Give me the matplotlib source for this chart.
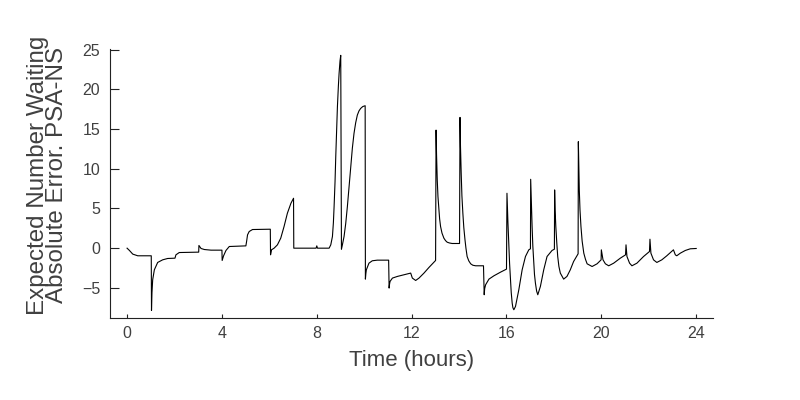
import matplotlib
matplotlib.use("Agg")
import matplotlib.pyplot as plt

# values (hours, absolute error)
time_h = [
    0.00, 0.10, 0.24, 0.45, 1.02, 1.03, 1.05, 1.08, 1.15, 1.29, 1.50, 1.71, 2.02, 2.06, 2.20,
    3.02, 3.03, 3.12, 3.26, 3.54, 4.00, 4.01, 4.07, 4.17, 4.31, 5.01, 5.04, 5.08, 5.15,
    5.29, 6.04, 6.05, 6.09, 6.20, 6.34, 6.48, 6.62, 6.76, 6.91, 7.02, 7.03, 7.97, 8.00,
    8.03, 8.52, 8.59, 8.66, 8.70, 8.73, 8.77, 8.80, 8.84, 8.87, 8.91, 8.94, 8.98, 9.01,
    9.04, 9.08, 9.15, 9.22, 9.29, 9.36, 9.43, 9.50, 9.57, 9.64, 9.71, 9.78, 9.85, 9.94, 10.04,
    10.05, 10.07, 10.09, 10.20, 10.34, 10.55, 11.03,
    11.05, 11.07, 11.09, 11.19, 11.40, 11.68, 11.96, 12.03, 12.17, 12.31, 12.52, 12.73, 13.01,
    13.03, 13.05, 13.08, 13.11, 13.15, 13.18, 13.22, 13.28, 13.36, 13.43, 13.50, 13.60, 13.71, 14.02,
    14.04, 14.06, 14.09, 14.12, 14.16, 14.20, 14.25, 14.29, 14.34, 14.41, 14.49, 14.58, 14.70, 15.03,
    15.06, 15.08, 15.12, 15.26, 15.47, 15.75, 16.00,
    16.02, 16.06, 16.10, 16.13, 16.17, 16.20, 16.24, 16.27, 16.31, 16.38, 16.52, 16.66, 16.80, 16.94, 17.01,
    17.02, 17.05, 17.08, 17.11, 17.15, 17.18, 17.22, 17.27, 17.32, 17.43, 17.57, 17.71, 17.92, 18.02,
    18.03, 18.05, 18.08, 18.12, 18.16, 18.21, 18.27, 18.41, 18.55, 18.69, 18.83, 19.02,
    19.03, 19.05, 19.07, 19.10, 19.14, 19.19, 19.26, 19.33, 19.40, 19.61, 19.82, 19.99,
    20.00, 20.07, 20.17, 20.31, 20.52, 20.80, 21.02, 21.04, 21.08, 21.19, 21.29, 21.50, 21.78, 22.03,
    22.05, 22.09, 22.20, 22.34, 22.55, 22.76, 23.04, 23.12, 23.18, 23.33, 23.54, 23.75, 24.00,
]
abs_error = [
    0.00, -0.29, -0.75, -0.96, -0.96, -7.84, -5.60, -3.98, -2.73, -1.80, -1.47, -1.30, -1.26, -0.84, -0.55,
    -0.50, 0.34, -0.04, -0.17, -0.25, -0.25, -1.55, -0.96, -0.29, 0.21, 0.29, 0.84, 1.68, 2.10,
    2.35, 2.39, -0.84, -0.21, 0.00, 0.42, 1.26, 2.73, 4.40, 5.66, 6.29, 0.00, 0.00, 0.29,
    0.00, 0.00, 0.42, 1.47, 3.20, 5.24, 8.40, 11.53, 15.00, 17.82, 20.40, 22.00, 23.60, 24.30,
    -0.13, 0.42, 1.47, 3.10, 5.24, 7.70, 10.27, 12.60, 14.47, 15.80, 16.77, 17.30, 17.61, 17.85, 17.95,
    -3.90, -3.20, -2.73, -1.89, -1.59, -1.51, -1.51,
    -5.03, -4.50, -4.19, -3.77, -3.56, -3.35, -3.14, -3.77, -4.07, -3.77, -3.14, -2.43, -1.55,
    14.88, 11.80, 8.60, 6.50, 4.82, 3.70, 2.73, 1.90, 1.26, 0.95, 0.75, 0.65, 0.59, 0.59,
    16.48, 12.80, 9.43, 6.60, 4.40, 2.60, 1.05, 0.00, -1.05, -1.60, -1.97, -2.15, -2.22, -2.22,
    -5.87, -5.10, -4.61, -3.90, -3.48, -3.02, -2.64,
    6.92, 3.30, 0.21, -1.90, -3.98, -5.60, -6.92, -7.50, -7.76, -7.34, -5.24, -2.73, -1.05, -0.21, -0.08,
    8.68, 5.50, 2.73, 0.30, -1.89, -3.30, -4.40, -5.40, -5.87, -4.82, -2.73, -1.05, -0.29, -0.13,
    7.34, 4.80, 2.73, 0.70, -1.05, -2.30, -3.14, -3.90, -3.56, -2.73, -1.68, -0.71,
    13.42, 10.00, 7.34, 4.80, 2.73, 0.90, -0.63, -1.40, -1.97, -2.31, -1.97, -1.47,
    -0.21, -1.47, -1.97, -2.22, -1.89, -1.26, -0.84, 0.42, -1.05, -1.89, -2.22, -1.89, -1.05, -0.42,
    1.13, -0.63, -1.47, -1.80, -1.47, -0.96, -0.21, -0.84, -0.96, -0.63, -0.29, -0.08, -0.04,
]

x_ticks = [0, 4, 8, 12, 16, 20, 24]
y_ticks = [-5, 0, 5, 10, 15, 20, 25]

plt.rcParams['font.family'] = ['Liberation Sans', 'DejaVu Sans']
text_color = '#404040'

fig = plt.figure(figsize=(8, 4), dpi=100)
ax = fig.add_axes([0.1375, 0.205, 0.7535, 0.6725])
ax.plot(time_h, abs_error, color='black', linewidth=0.8)

ax.set_xlim(-0.72, 24.7)
ax.set_ylim(-8.8, 25.1)
ax.set_xticks(x_ticks)
ax.set_yticks(y_ticks)
for side in ['top', 'right']:
    ax.spines[side].set_visible(False)
for side in ['left', 'bottom']:
    ax.spines[side].set_color('#222222')
    ax.spines[side].set_linewidth(0.8)
ax.tick_params(axis='x', direction='in', length=3, width=0.8, pad=6,
               labelsize=11.5, labelcolor=text_color, color='#222222')
ax.tick_params(axis='y', direction='in', length=6.5, width=0.8, pad=7,
               labelsize=11.5, labelcolor=text_color, color='#222222')

ax.set_xlabel('Time (hours)', fontsize=16, color=text_color, labelpad=6)
ax.set_ylabel('Expected Number Waiting\nAbsolute Error. PSA-NS', fontsize=17.4,
              color=text_color, linespacing=0.87)
ax.yaxis.set_label_coords(-0.069, 0.532)

fig.savefig('out.png', dpi=100)
